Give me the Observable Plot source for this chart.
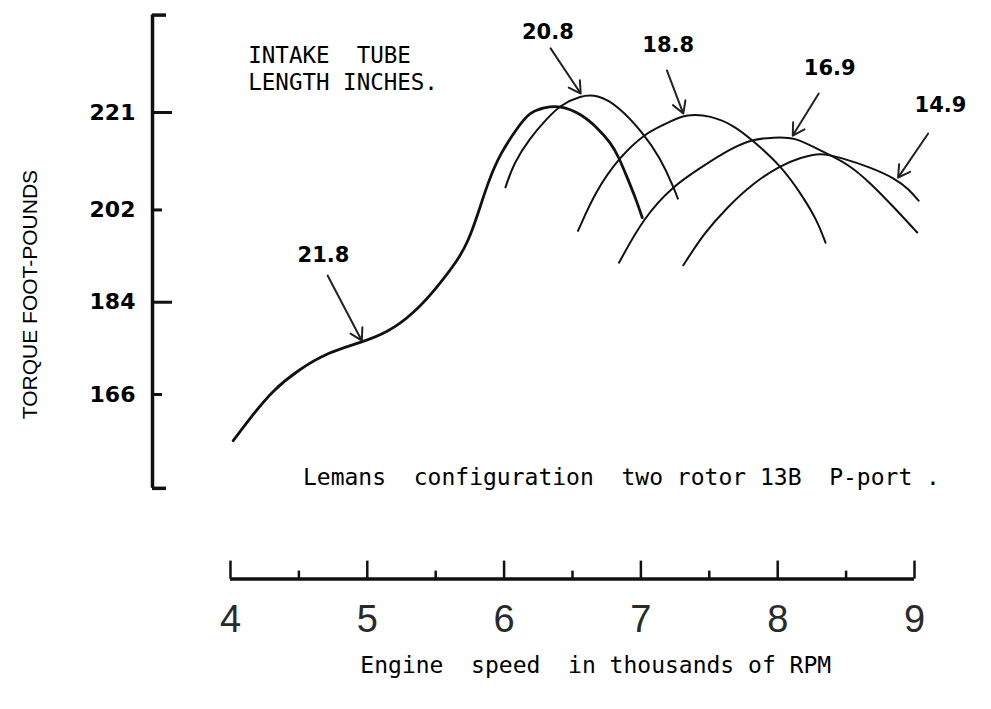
<!DOCTYPE html>
<html>
<head>
<meta charset="utf-8">
<script src="https://cdn.jsdelivr.net/npm/d3@7"></script>
<script src="https://cdn.jsdelivr.net/npm/@observablehq/plot@0.6"></script>
<style>
  html, body { margin: 0; padding: 0; background: #fff; }
  svg text { white-space: pre; }
</style>
</head>
<body>
<div id="chart"></div>
<script>
// ---- axes / ticks ----
const xTicks = [4, 5, 6, 7, 8, 9];
const xMinorTicks = [4.5, 5.5, 6.5, 7.5, 8.5];
const yTickLabels = [221, 202, 184, 166];
const yTicksLong = [221, 184];
const yTicksShort = [202, 166];
const yAxisExtent = [147.7, 240];
const xDomain = [3.43, 9.5];
const yDomain = [130, 240];

// ---- curves (RPM in thousands, torque ft-lb) ----
const rpm_21_8 = [4.02, 4.17, 4.31, 4.49, 4.71, 4.95, 5.15, 5.34, 5.51, 5.66, 5.74, 5.81, 5.88, 5.97, 6.12, 6.19, 6.29, 6.41, 6.56, 6.68, 6.78, 6.84, 6.90, 6.96, 7.01];
const tq_21_8  = [157.0, 162.3, 166.8, 170.7, 174.2, 176.1, 178.1, 181.8, 186.9, 192.1, 196.0, 201.3, 207.2, 213.0, 218.9, 221.0, 222.0, 222.4, 220.8, 218.1, 215.1, 212.2, 208.3, 204.4, 200.5];

const rpm_20_8 = [6.01, 6.07, 6.19, 6.32, 6.41, 6.56, 6.68, 6.83, 7.02, 7.14, 7.24, 7.27];
const tq_20_8  = [206.4, 211.1, 216.1, 220.0, 222.4, 224.3, 224.5, 222.4, 216.9, 212.2, 206.4, 204.2];

const rpm_18_8 = [6.54, 6.67, 6.84, 7.03, 7.16, 7.33, 7.51, 7.68, 7.82, 8.02, 8.17, 8.29, 8.35];
const tq_18_8  = [197.9, 205.7, 212.2, 216.9, 218.5, 220.8, 220.4, 218.5, 215.5, 210.7, 205.2, 199.9, 195.6];

const rpm_16_9 = [6.84, 7.02, 7.24, 7.44, 7.63, 7.82, 7.97, 8.12, 8.31, 8.51, 8.68, 8.85, 9.02];
const tq_16_9  = [191.7, 200.5, 206.8, 210.3, 213.6, 215.9, 216.1, 216.3, 213.6, 211.1, 207.2, 202.5, 197.6];

const rpm_14_9 = [7.31, 7.46, 7.63, 7.82, 8.02, 8.17, 8.31, 8.46, 8.68, 8.86, 8.96, 9.03];
const tq_14_9  = [191.2, 197.4, 202.5, 207.2, 210.7, 212.2, 213.2, 212.2, 210.3, 208.1, 206.0, 203.8];

// ---- curve labels and arrows ----
const curveLabels = ["21.8", "20.8", "18.8", "16.9", "14.9"];
const labelRpm = [4.68, 6.32, 7.20, 8.38, 9.19];
const labelTq  = [193.1, 236.6, 234.1, 229.6, 222.4];
const arrowFromRpm = [4.71, 6.34, 7.19, 8.30, 9.10];
const arrowFromTq  = [189.2, 233.5, 229.2, 224.7, 216.9];
const arrowToRpm   = [4.96, 6.56, 7.31, 8.11, 8.88];
const arrowToTq    = [176.5, 224.7, 220.8, 216.5, 208.3];

// ---- texts ----
const titleLines = ["INTAKE  TUBE", "LENGTH INCHES."];
const titleRpm = [4.13, 4.13];
const titleTq = [232.1, 226.7];
const noteText = ["Lemans  configuration  two rotor 13B  P-port ."];
const noteRpm = [4.53];
const noteTq = [149.8];
const xLabel = ["Engine  speed  in thousands of RPM"];
const xLabelPos = [[6.67, 113.1]];
const yLabel = ["TORQUE FOOT-POUNDS"];
const yLabelPos = [[2.54, 185.5]];

const mk = (rpm, tq, main) => rpm.map((r, i) => ({rpm: r, tq: tq[i], main}));
const curves = [
  mk(rpm_21_8, tq_21_8, true),
  mk(rpm_20_8, tq_20_8, false),
  mk(rpm_18_8, tq_18_8, false),
  mk(rpm_16_9, tq_16_9, false),
  mk(rpm_14_9, tq_14_9, false)
];
const arrows = curveLabels.map((l, i) => ({
  label: l, lx: labelRpm[i], ly: labelTq[i],
  x1: arrowFromRpm[i], y1: arrowFromTq[i], x2: arrowToRpm[i], y2: arrowToTq[i]
}));

const mono = "DejaVu Sans Mono";

const chart = Plot.plot({
  width: 991,
  height: 709,
  marginLeft: 152,
  marginRight: 8.6,
  marginTop: 14.6,
  marginBottom: 130.4,
  x: {domain: xDomain, label: null},
  y: {domain: yDomain, label: null},
  style: {background: "#fff", color: "#111"},
  marks: [
    // y axis (bracket)
    Plot.ruleX([xDomain[0]], {y1: yAxisExtent[0], y2: yAxisExtent[1], strokeWidth: 3.5, stroke: "#111"}),
    Plot.axisY(yAxisExtent, {tickSize: -14, strokeWidth: 3.5, fill: "none", label: null}),
    Plot.axisY(yTicksLong, {tickSize: -20, strokeWidth: 3, fill: "none", label: null}),
    Plot.axisY(yTicksShort, {tickSize: -10, strokeWidth: 3, fill: "none", label: null}),
    Plot.axisY(yTickLabels, {tickSize: 0, tickPadding: 17, fontSize: 22, fontWeight: "bold", fontFamily: "DejaVu Sans", fill: "#000", label: null}),
    // x axis
    Plot.ruleY([yDomain[0]], {x1: xTicks[0], x2: xTicks[xTicks.length - 1], strokeWidth: 3.5, stroke: "#111"}),
    Plot.axisX(xTicks, {tickSize: -18, strokeWidth: 2.5, fill: "none", label: null}),
    Plot.axisX(xMinorTicks, {tickSize: -8, strokeWidth: 2.5, fill: "none", label: null}),
    Plot.axisX(xTicks, {tickSize: 0, tickPadding: 26, tickFormat: d => String(d), fontSize: 38, fontFamily: "Liberation Sans", fill: "#2a2a2a", label: null}),
    // curves
    ...curves.map(c => Plot.line(c, {x: "rpm", y: "tq", curve: "basis", stroke: "#111", strokeWidth: c[0].main ? 2.8 : 2})),
    // arrows and labels
    Plot.arrow(arrows, {x1: "x1", y1: "y1", x2: "x2", y2: "y2", stroke: "#222", strokeWidth: 2, headLength: 10}),
    Plot.text(arrows, {x: "lx", y: "ly", text: "label", fontSize: 21, fontWeight: "bold", fontFamily: "DejaVu Sans", fill: "#000"}),
    // texts
    Plot.text(titleLines, {x: (d, i) => titleRpm[i], y: (d, i) => titleTq[i], text: d => d, textAnchor: "start", fontSize: 22.5, fontFamily: mono, fill: "#000"}),
    Plot.text(noteText, {x: (d, i) => noteRpm[i], y: (d, i) => noteTq[i], text: d => d, textAnchor: "start", fontSize: 23, fontFamily: mono, fill: "#000"}),
    Plot.text(xLabel, {x: (d, i) => xLabelPos[i][0], y: (d, i) => xLabelPos[i][1], text: d => d, fontSize: 23, fontFamily: mono, fill: "#000"}),
    Plot.text(yLabel, {x: (d, i) => yLabelPos[i][0], y: (d, i) => yLabelPos[i][1], text: d => d, rotate: -90, fontSize: 21, fontFamily: "Liberation Sans", fill: "#000"})
  ]
});
document.getElementById("chart").appendChild(chart);
</script>
</body>
</html>
